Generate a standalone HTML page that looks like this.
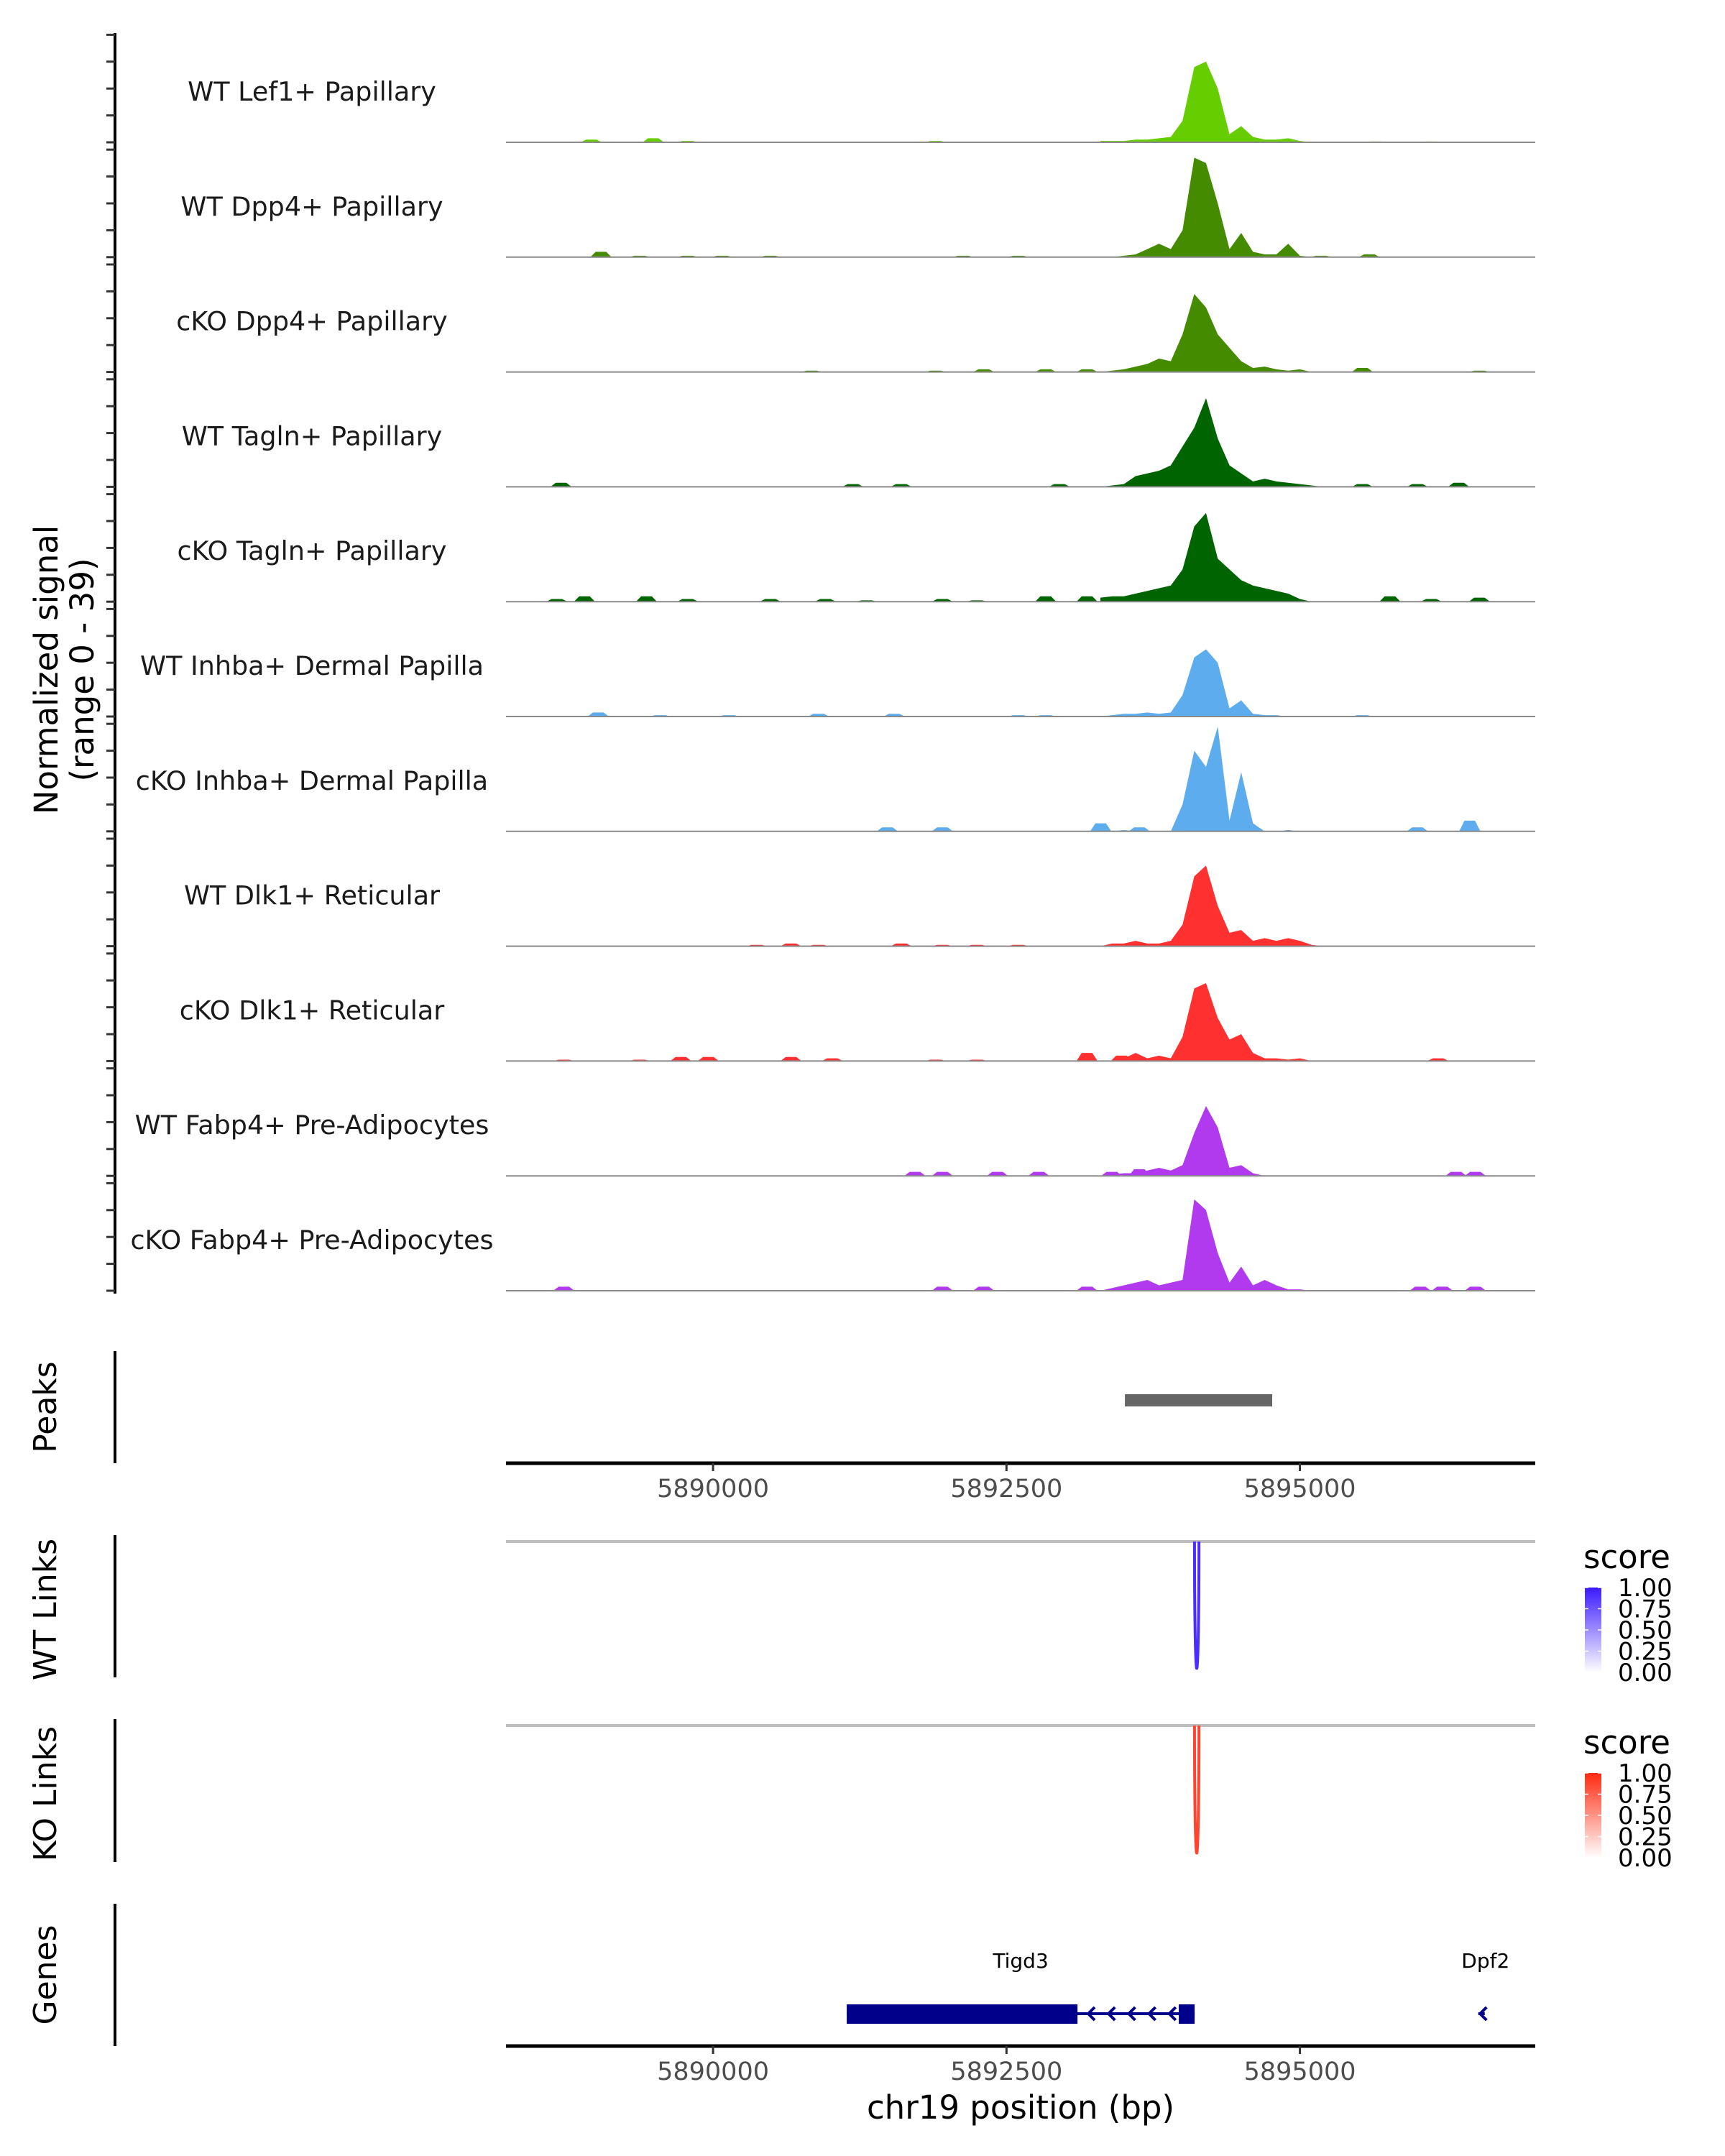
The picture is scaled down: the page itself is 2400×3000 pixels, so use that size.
<!DOCTYPE html>
<html><head><meta charset="utf-8">
<style>
html,body{margin:0;padding:0;background:#fff;}
svg{display:block;font-family:"DejaVu Sans","Liberation Sans",sans-serif;}
</style></head>
<body>
<svg id="chart" width="2400" height="3000" viewBox="0 0 2400 3000" xmlns="http://www.w3.org/2000/svg">
<rect width="2400" height="3000" fill="#fff"/>
</svg>
<script>
// ---- data ----
const trackNames = ["WT Lef1+ Papillary","WT Dpp4+ Papillary","cKO Dpp4+ Papillary","WT Tagln+ Papillary","cKO Tagln+ Papillary","WT Inhba+ Dermal Papilla","cKO Inhba+ Dermal Papilla","WT Dlk1+ Reticular","cKO Dlk1+ Reticular","WT Fabp4+ Pre-Adipocytes","cKO Fabp4+ Pre-Adipocytes"];
const trackColors = ["#66CD00","#458B00","#458B00","#006400","#006400","#5CACEE","#5CACEE","#FF3030","#FF3030","#B23AEE","#B23AEE"];
const peakStart = 5893300;
const peakStep = 100;
const peakLef1 = [0.5,0.5,0.5,1,1,1.5,2,8,28,30,20,3,6,2,1,1,1.5,0.5,0,0,0];
const peakDpp4WT = [0,0,0.5,1,3,5,3,10,37,35,20,3,9,2,1,1,5,0.5,0,0.5,0];
const peakDpp4KO = [0,0.5,1,2,3,5,4,14,29,24,14,9,4,1.5,2,1,0.5,1,0,0,0];
const peakTaglnWT = [0,0.5,1,4,5,6,8,15,22,33,18,8,5,2,3,2,1.5,1,0.5,0,0];
const peakTaglnKO = [1.5,2,2,3,4,5,6,12,28,33,16,12,8,6,5,4,3,1,0,0,0];
const peakInhbaWT = [0,0.5,1,1,1.5,1,1.5,8,22,25,20,3,6,1,0.5,0.5,0,0,0,0,0];
const peakInhbaKO = [0,0,0.5,0,0,0,0,10,30,24,39,4,22,3,0,0,0.5,0,0,0,0];
const peakDlk1WT = [0,1,1,2,1,1,2,8,26,30,15,5,6,2,3,2,3,2,0.5,0,0];
const peakDlk1KO = [0,0,1,3,1,2,1,9,27,29,16,8,10,3,1,1,0.5,1,0,0,0];
const peakFabp4WT = [0,0.5,1,1,2,3,2,4,16,26,18,3,4,1,0,0,0,0,0,0,0];
const peakFabp4KO = [0,1,2,3,4,2,3,4,34,30,14,3,9,2,4,2,0.5,0.5,0,0,0];
const peakValues = [peakLef1,peakDpp4WT,peakDpp4KO,peakTaglnWT,peakTaglnKO,peakInhbaWT,peakInhbaKO,peakDlk1WT,peakDlk1KO,peakFabp4WT,peakFabp4KO];
const blipsLef1 = [[5888963,1],[5889491,1.5],[5889784,0.5],[5891896,0.5],[5895650,0.3],[5896119,0.3]];
const blipsDpp4WT = [[5889045,2],[5889374,0.5],[5889784,0.5],[5890078,0.5],[5890488,0.5],[5892130,0.5],[5892600,0.5],[5895180,0.5],[5895591,1]];
const blipsDpp4KO = [[5890840,0.5],[5891896,0.5],[5892306,1],[5892834,1],[5893186,1],[5895532,1.5],[5896529,0.5]];
const blipsTaglnWT = [[5888705,1.5],[5891192,1],[5891603,1],[5892951,1],[5895532,1],[5896001,1],[5896353,1.5]];
const blipsTaglnKO = [[5888670,1],[5888905,2],[5889433,2],[5889784,1],[5890488,1],[5890957,1],[5891309,0.5],[5891954,1],[5892248,0.5],[5892834,2],[5893186,2],[5895767,2],[5896119,1],[5896529,1.5]];
const blipsInhbaWT = [[5889022,1.5],[5889550,0.5],[5890136,0.5],[5890899,1],[5891544,1],[5892600,0.5],[5892834,0.5],[5895532,0.5]];
const blipsInhbaKO = [[5891485,1.5],[5891954,1.5],[5893303,3],[5893632,1.5],[5896001,1.5],[5896447,4]];
const blipsDlk1WT = [[5890371,0.5],[5890664,1],[5890899,0.5],[5891603,1],[5891954,0.5],[5892248,0.5],[5892600,0.5]];
const blipsDlk1KO = [[5888729,0.5],[5889374,0.5],[5889726,1.5],[5889960,1.5],[5890664,1.5],[5891016,1],[5891896,0.5],[5892248,0.5],[5893186,3],[5893479,2],[5896177,1]];
const blipsFabp4WT = [[5891720,1.5],[5891954,1.5],[5892423,1.5],[5892775,1.5],[5893397,1.5],[5893632,2.5],[5896330,1.5],[5896494,1.5]];
const blipsFabp4KO = [[5888729,1.5],[5891954,1.5],[5892306,1.5],[5893186,1.5],[5896025,1.5],[5896213,1.5],[5896494,1.5]];
const blipValues = [blipsLef1,blipsDpp4WT,blipsDpp4KO,blipsTaglnWT,blipsTaglnKO,blipsInhbaWT,blipsInhbaKO,blipsDlk1WT,blipsDlk1KO,blipsFabp4WT,blipsFabp4KO];
const xTicks = [5890000,5892500,5895000];
const xTickLabels = ["5890000","5892500","5895000"];
const yTicks = [0,10,20,30,40];
const peakRegion = [5893509,5894764];
const wtLinks = [[5894102,5894140,1.0]];
const koLinks = [[5894102,5894140,1.0]];
const genes = [{name:"Tigd3",start:5891139,end:5894103,strand:-1,exons:[[5891139,5893105],[5893968,5894103]]},{name:"Dpf2",start:5896520,end:5896575,strand:-1,exons:[]}];
const legendLabels = ["1.00","0.75","0.50","0.25","0.00"];

// ---- axes ----
const X0 = 704, X1 = 2136, BP0 = 5888236, BP1 = 5897005;
function xs(bp){ return X0 + (bp-BP0)/(BP1-BP0)*(X1-X0); }
const BASE0 = 198, TRACK_H = 159.8, UNIT = 3.74;
function ys(track, v){ return BASE0 + track*TRACK_H - v*UNIT; }

const NS = "http://www.w3.org/2000/svg";
const svg = document.getElementById("chart");
function mk(tag, attrs, parent){
  const e = document.createElementNS(NS, tag);
  for (const k in attrs) e.setAttribute(k, attrs[k]);
  (parent||svg).appendChild(e);
  return e;
}
function txt(s, attrs, parent){ const t = mk("text", attrs, parent); t.textContent = s; return t; }

// left axis for signal
const axisG = mk("g", {});


mk("line", {x1:160, y1:46, x2:160, y2:1800, stroke:"#000", "stroke-width":4}, axisG);
for (let t=0; t<trackNames.length; t++){
  for (const v of yTicks){
    const tk = mk("line", {x1:148, x2:160, y1:ys(t,v), y2:ys(t,v), stroke:"#333", "stroke-width":3}, axisG);
    
    
  }
}
const yt = mk("text", {transform:"translate(80,932) rotate(-90)", "text-anchor":"middle", "font-size":45, fill:"#000"});


const ts1 = mk("tspan", {x:0, dy:0}, yt); ts1.textContent = "Normalized signal";
const ts2 = mk("tspan", {x:0, dy:50}, yt); ts2.textContent = "(range 0 - 39)";

// tracks
for (let t=0; t<trackNames.length; t++){
  const g = mk("g", {});
  
  
  const base = ys(t,0);
  const lab = txt(trackNames[t], {x:434, y:base-58, "text-anchor":"middle", "font-size":36.5, fill:"#1a1a1a"}, g);
  
  
  const col = trackColors[t];
  for (const b of blipValues[t]){
    const p = mk("polygon", {points:[[xs(b[0]-90),base],[xs(b[0]-45),ys(t,b[1])],[xs(b[0]+45),ys(t,b[1])],[xs(b[0]+90),base]].map(q=>q.join(",")).join(" "), fill:col}, g);
    
    
  }
  const vals = peakValues[t];
  const pts = [[xs(peakStart), base]];
  vals.forEach((v,i)=>pts.push([xs(peakStart+i*peakStep), ys(t,v)]));
  pts.push([xs(peakStart+(vals.length-1)*peakStep), base]);
  const area = mk("polygon", {points:pts.map(q=>q.join(",")).join(" "), fill:col}, g);
  
  
  const bl = mk("line", {x1:X0, x2:X1, y1:base, y2:base, stroke:"#8a8a8a", "stroke-width":2}, g);
  
  
}

function panelTitle(s, y, name){
  const e = txt(s, {transform:"translate(78,"+y+") rotate(-90)", "text-anchor":"middle", "font-size":44, fill:"#000"});
  
  
}
function panelAxis(y1,y2,name){
  const l = mk("line", {x1:160, x2:160, y1:y1, y2:y2, stroke:"#000", "stroke-width":4});
  
  
}
function xAxis(y, name){
  const g = mk("g", {});
  
  
  mk("line", {x1:X0, x2:X1, y1:y, y2:y, stroke:"#000", "stroke-width":5}, g);
  xTicks.forEach((bp,i)=>{
    mk("line", {x1:xs(bp), x2:xs(bp), y1:y, y2:y+11, stroke:"#333", "stroke-width":3}, g);
    const l = txt(xTickLabels[i], {x:xs(bp), y:y+47, "text-anchor":"middle", "font-size":35, fill:"#4d4d4d"}, g);
    
    
  });
}

// peaks panel
panelAxis(1880, 2036, 'peaks-axis');
panelTitle("Peaks", 1958, 'peaks-title');
const pk = mk("rect", {x:xs(peakRegion[0]), y:1940, width:xs(peakRegion[1])-xs(peakRegion[0]), height:17, fill:"#666"});


xAxis(2036, 'peaks-x-axis');

// links panels
function linksPanel(top, bottom, links, color, title, name, legendTop, gradId, gradColor){
  panelAxis(top-9, bottom, name+'-axis');
  panelTitle(title, (top+bottom)/2, name+'-title');
  const gl = mk("line", {x1:X0, x2:X1, y1:top, y2:top, stroke:"#bebebe", "stroke-width":4});
  
  
  for (const L of links){
    const xa = xs(L[0]), xb = xs(L[1]), depth = (bottom-top-12)*L[2];
    const p = mk("path", {d:`M${xa},${top} C${xa},${top+depth*1.33} ${xb},${top+depth*1.33} ${xb},${top}`, fill:"none", stroke:color, "stroke-width":4});
    
    
  }
  const lg = mk("g", {});
  
  
  const defs = mk("defs", {}, lg);
  const grad = mk("linearGradient", {id:gradId, x1:0, y1:1, x2:0, y2:0}, defs);
  mk("stop", {offset:0, "stop-color":"#ffffff"}, grad);
  mk("stop", {offset:1, "stop-color":gradColor}, grad);
  txt("score", {x:2203, y:legendTop-27, "font-size":45, fill:"#000"}, lg);
  mk("rect", {x:2205, y:legendTop, width:23, height:118, fill:`url(#${gradId})`}, lg);
  legendLabels.forEach((s,i)=>{
    const yy = legendTop + i*29.5;
    mk("line", {x1:2205, x2:2210, y1:yy, y2:yy, stroke:"#fff", "stroke-width":1.5}, lg);
    mk("line", {x1:2223, x2:2228, y1:yy, y2:yy, stroke:"#fff", "stroke-width":1.5}, lg);
    txt(s, {x:2251, y:yy+12, "font-size":34, fill:"#000"}, lg);
  });
}
linksPanel(2145, 2334, wtLinks, "#4b2dff", "WT Links", 'wt-links', 2209, 'gradBlue', '#3a1aff');
linksPanel(2401, 2591, koLinks, "#ff4530", "KO Links", 'ko-links', 2467, 'gradRed', '#ff2a10');

// genes panel
panelAxis(2649, 2847, 'genes-axis');
panelTitle("Genes", 2748, 'genes-title');
const gy = 2802;
for (const gn of genes){
  const g = mk("g", {});
  
  
  mk("line", {x1:xs(gn.start), x2:xs(gn.end), y1:gy, y2:gy, stroke:"#00008B", "stroke-width":4}, g);
  for (const ex of gn.exons){
    mk("rect", {x:xs(ex[0]), y:gy-13, width:xs(ex[1])-xs(ex[0]), height:27, fill:"#00008B"}, g);
  }
  const n = gn.exons.length>1 ? 5 : 1;
  const a0 = gn.exons.length>1 ? gn.exons[0][1] : gn.start;
  const a1 = gn.exons.length>1 ? gn.exons[1][0] : gn.end;
  for (let i=0;i<n;i++){
    const ax = n>1 ? xs(a0) + (xs(a1)-xs(a0))*(i+0.6)/n : (xs(a0)+xs(a1))/2;
    mk("polyline", {points:`${ax+7},${gy-9} ${ax-2},${gy} ${ax+7},${gy+9}`, fill:"none", stroke:"#00008B", "stroke-width":4}, g);
  }
  const lx = n>1 ? (xs(gn.start)+xs(gn.end))/2 : xs(gn.start)+10;
  const gl = txt(gn.name, {x:lx, y:2738, "text-anchor":"middle", "font-size":28, fill:"#000"}, g);
  
  
}
xAxis(2847, 'genes-x-axis');
const xt = txt("chr19 position (bp)", {x:1420, y:2948, "text-anchor":"middle", "font-size":45, fill:"#000"});


</script>
</body></html>
